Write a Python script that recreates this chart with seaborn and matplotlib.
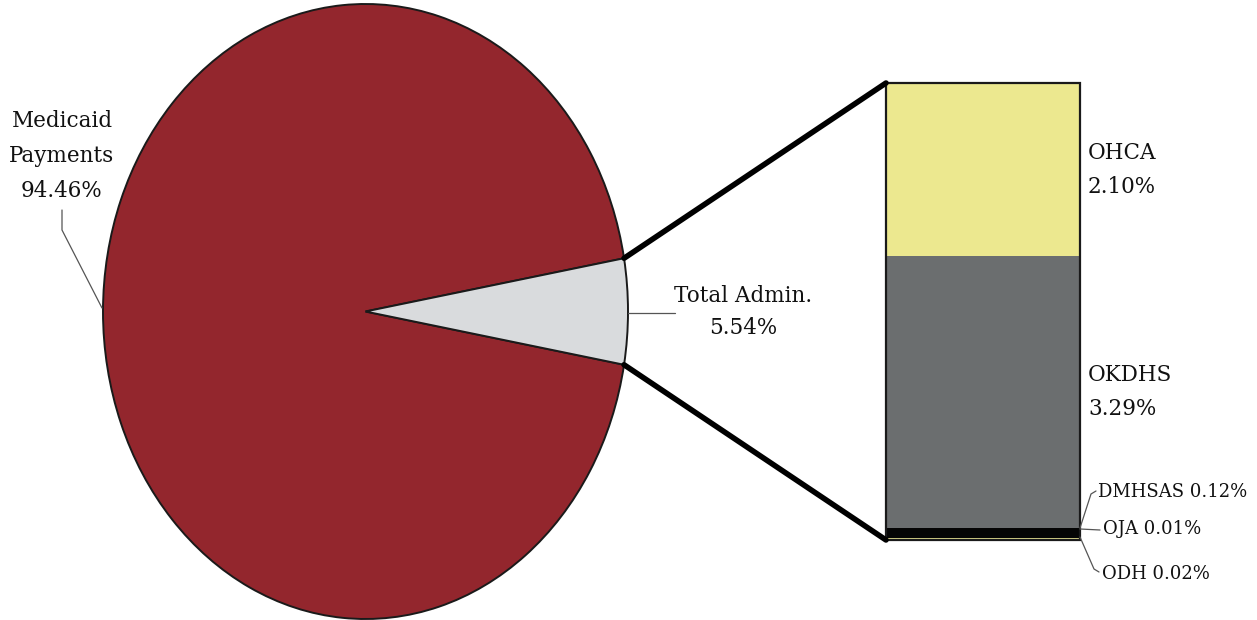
import numpy as np
import seaborn as sns
import matplotlib
matplotlib.use('Agg')
import matplotlib.pyplot as plt
from matplotlib.patches import ConnectionPatch

sns.set_theme(style='white')
plt.rcParams['font.family'] = ['DejaVu Serif', 'DejaVu Sans']

# 饼图数据
pie_labels = ['Medicaid\nPayments', 'Total Admin.']
pie_values = [94.46, 5.54]
pie_colors = ['#93262d', '#d9dbdd']

# 柱状图数据（自下而上）
bar_labels = ['ODH', 'OJA', 'DMHSAS', 'OKDHS', 'OHCA']
bar_values = [0.02, 0.01, 0.12, 3.29, 2.10]
bar_colors = ['#d8d48a', '#3a3a2a', '#050505', '#6b6e6f', '#ece88f']

W, H = 1257, 620
fig = plt.figure(figsize=(W / 100, H / 100), dpi=100)

def px_axes(x0, y0, x1, y1):
    return fig.add_axes([x0 / W, 1 - y1 / H, (x1 - x0) / W, (y1 - y0) / H])

# 饼图（椭圆）
ax_pie = px_axes(103, 4, 628, 619)
half = pie_values[1] * 3.6 / 2
wedges, _ = ax_pie.pie(pie_values, colors=pie_colors, startangle=half, counterclock=True,
                       wedgeprops=dict(edgecolor='#1a1a1a', linewidth=1.4), radius=1.0)
for w in wedges:
    w.set_clip_on(False)
ax_pie.set_aspect('auto')
ax_pie.set_xlim(-1.0, 1.0)
ax_pie.set_ylim(-1.0, 1.0)
ax_pie.axis('off')

# 堆叠柱
ax_bar = px_axes(886, 83, 1080, 540)
bottom = 0
for lab, v, c in zip(bar_labels, bar_values, bar_colors):
    ax_bar.bar(0, v, bottom=bottom, width=1.0, color=c, edgecolor='none')
    bottom += v
total = sum(bar_values)
frame = ax_bar.bar(0, total, width=1.0, fill=False, edgecolor='#1a1a1a', linewidth=1.6)
for p in frame:
    p.set_clip_on(False)
ax_bar.set_xlim(-0.5, 0.5)
ax_bar.set_ylim(0, total)
ax_bar.axis('off')

# 连接线
a = np.deg2rad(half)
for sgn, ybar in [(1, total), (-1, 0)]:
    con = ConnectionPatch(xyA=(np.cos(a), sgn * np.sin(a)), coordsA=ax_pie.transData,
                          xyB=(-0.5, ybar), coordsB=ax_bar.transData,
                          color='black', linewidth=4.0, capstyle='round')
    fig.add_artist(con)

fs = 15.5
fs2 = 13
tc = '#111111'
lc = '#555555'

def ftext(x, y, s, **kw):
    fig.text(x / W, 1 - y / H, s, color=tc, **kw)

def fline(xs, ys, **kw):
    fig.add_artist(plt.Line2D([x / W for x in xs], [1 - y / H for y in ys],
                              color=lc, linewidth=0.9, **kw))

ftext(62, 156, 'Medicaid\nPayments\n%.2f%%' % pie_values[0], ha='center', va='center',
      fontsize=fs, linespacing=1.75)
fline([62, 62, 102], [210, 230, 308])

ftext(743, 312, '%s\n%.2f%%' % (pie_labels[1], pie_values[1]), ha='center', va='center',
      fontsize=fs, linespacing=1.6)
fline([628, 675], [313, 313])

ftext(1088, 170, '%s\n%.2f%%' % (bar_labels[4], bar_values[4]), ha='left', va='center',
      fontsize=fs, linespacing=1.7)
ftext(1088, 392, '%s\n%.2f%%' % (bar_labels[3], bar_values[3]), ha='left', va='center',
      fontsize=fs, linespacing=1.7)

ftext(1098, 492, '%s %.2f%%' % (bar_labels[2], bar_values[2]), ha='left', va='center', fontsize=fs2)
fline([1080, 1091, 1096], [528, 494, 491])
ftext(1103, 529, '%s %.2f%%' % (bar_labels[1], bar_values[1]), ha='left', va='center', fontsize=fs2)
fline([1080, 1100], [529, 530])
ftext(1102, 574, '%s %.2f%%' % (bar_labels[0], bar_values[0]), ha='left', va='center', fontsize=fs2)
fline([1080, 1094, 1099], [537, 569, 572])

fig.savefig('out.png', dpi=100, facecolor='white')
